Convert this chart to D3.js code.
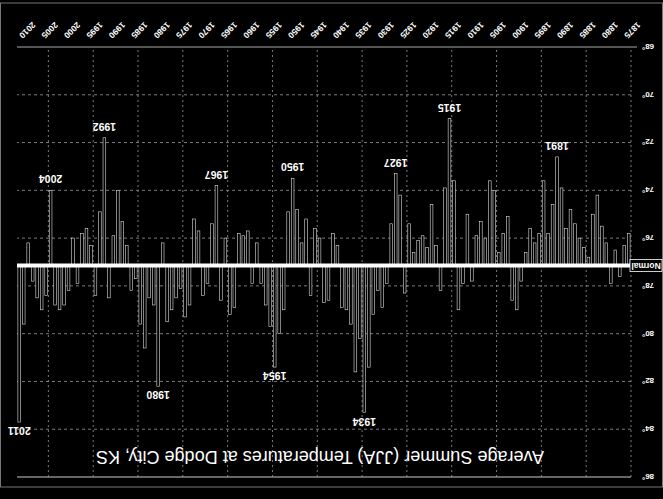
<!DOCTYPE html>
<html>
<head>
<meta charset="utf-8">
<script src="https://cdn.jsdelivr.net/npm/d3@7"></script>
<style>
  body { margin: 0; background: #000; }
  text { font-family: "Liberation Sans", Arial, sans-serif; fill: #fff; }
</style>
</head>
<body>
<div class="canvas"></div>
<script>
const WIDTH = 663;
const HEIGHT = 499;
const FIRST_YEAR = 1875;
const NORMAL = 77.15;

// Average JJA temperature (deg F), 1875 .. 2011
const temps = [
    75.8, 76.3, 77.6, 76.5, 77.9,
    76.2, 75.5, 74.2, 75.0, 76.8, 76.4, 76.0, 75.4, 74.8, 75.6,
    73.9, 72.6, 74.6, 75.8, 73.6, 75.8, 76.2, 75.6, 76.6, 77.8,
    79.0, 78.6, 75.1, 75.8, 76.6, 74.0, 73.6, 76.0, 75.3, 75.9,
    77.8, 75.0, 77.9, 79.0, 73.6, 71.0, 73.9, 78.2, 76.3, 74.6,
    76.4, 75.9, 76.1, 76.6, 75.4, 78.3, 74.2, 73.3, 75.4, 77.9,
    78.9, 78.2, 79.2, 81.4, 83.3, 80.2, 81.6, 79.6, 79.0, 78.9,
    76.3, 75.8, 78.6, 78.7, 76.0, 75.6, 78.4, 75.2, 76.2, 74.8,
    73.5, 74.9, 79.0, 80.0, 81.4, 79.7, 78.8, 77.9, 76.2, 77.9,
    75.7, 75.9, 75.8, 78.9, 79.2, 76.0, 78.6, 73.8, 75.4, 77.9,
    78.4, 75.7, 75.2, 78.8, 79.3, 78.1, 78.5, 79.0, 79.5, 76.2,
    82.2, 78.8, 78.5, 80.6, 79.6, 77.7, 78.2, 76.3, 75.3, 74.0,
    75.9, 78.5, 71.8, 74.9, 78.4, 76.3, 75.6, 75.8, 77.9, 76.0,
    78.2, 78.8, 79.0, 78.8, 74.0, 78.4, 79.0, 78.5, 77.8, 76.2,
    79.6, 83.7
];

const tickYears = [1875, 1880, 1885, 1890, 1895, 1900, 1905, 1910, 1915, 1920,
    1925, 1930, 1935, 1940, 1945, 1950, 1955, 1960, 1965, 1970, 1975, 1980,
    1985, 1990, 1995, 2000, 2005, 2010];
const gridYears = [1875, 1885, 1895, 1905, 1915, 1925, 1935, 1945, 1955, 1965,
    1975, 1985, 1995, 2005];
const yTicks = [68, 70, 72, 74, 76, 78, 80, 82, 84, 86];
const labeledYears = [1891, 1915, 1927, 1934, 1950, 1954, 1967, 1980, 1992, 2004, 2011];

const data = temps.map((t, i) => ({ year: FIRST_YEAR + i, temp: t }));

const plot = { left: 32, right: 646, top: 22, bottom: 452 };

const svg = d3.select('.canvas')
    .append('svg')
    .attr('width', WIDTH)
    .attr('height', HEIGHT)
    .style('display', 'block')
    .style('background', '#000');

// the scanned original is upside down, so the whole chart is turned round
const root = svg.append('g')
    .attr('transform', `rotate(180, ${WIDTH / 2}, ${HEIGHT / 2})`);

const x = d3.scaleBand()
    .domain(data.map(d => d.year))
    .range([plot.left, plot.right])
    .paddingInner(0.4)
    .paddingOuter(0.2);

const y = d3.scaleLinear()
    .domain([68, 86])
    .range([plot.bottom, plot.top]);

// chart frame
root.append('rect')
    .attr('x', 0.5).attr('y', 12)
    .attr('width', WIDTH - 1).attr('height', 484)
    .attr('fill', 'none')
    .attr('stroke', '#777')
    .attr('stroke-width', 1);

// horizontal gridlines
root.append('g')
    .selectAll('line')
    .data(yTicks.filter(t => t > 68 && t < 86))
    .enter()
    .append('line')
    .attr('x1', plot.left).attr('x2', plot.right)
    .attr('y1', d => y(d)).attr('y2', d => y(d))
    .attr('stroke', '#999')
    .attr('stroke-width', 0.8)
    .attr('stroke-dasharray', '3,3');

root.append('line')
    .attr('x1', plot.left).attr('x2', plot.right)
    .attr('y1', y(86)).attr('y2', y(86))
    .attr('stroke', '#ccc')
    .attr('stroke-width', 1);

// vertical gridlines sit on the band boundaries
const edge = yr => x(yr) - x.step() * x.paddingInner() / 2;

root.append('g')
    .selectAll('line')
    .data(gridYears)
    .enter()
    .append('line')
    .attr('x1', d => edge(d)).attr('x2', d => edge(d))
    .attr('y1', plot.top).attr('y2', plot.bottom)
    .attr('stroke', '#999')
    .attr('stroke-width', 0.8)
    .attr('stroke-dasharray', '2,3');

// bars from the normal
root.append('g')
    .selectAll('rect')
    .data(data)
    .enter()
    .append('rect')
    .attr('x', d => x(d.year))
    .attr('width', x.bandwidth())
    .attr('y', d => Math.min(y(d.temp), y(NORMAL)))
    .attr('height', d => Math.abs(y(d.temp) - y(NORMAL)))
    .attr('fill', '#000')
    .attr('stroke', '#ddd')
    .attr('stroke-width', 0.6);

// bottom axis line
root.append('line')
    .attr('x1', 26).attr('x2', plot.right)
    .attr('y1', plot.bottom).attr('y2', plot.bottom)
    .attr('stroke', '#aaa')
    .attr('stroke-width', 1.2);

// normal line
root.append('line')
    .attr('x1', plot.left).attr('x2', plot.right)
    .attr('y1', y(NORMAL)).attr('y2', y(NORMAL))
    .attr('stroke', '#fff')
    .attr('stroke-width', 4);

const normalLabel = root.append('g')
    .attr('transform', `translate(0, ${y(NORMAL)})`);
normalLabel.append('rect')
    .attr('x', 1).attr('y', -6)
    .attr('width', 32).attr('height', 12)
    .attr('fill', '#000')
    .attr('stroke', '#fff')
    .attr('stroke-width', 0.8);
normalLabel.append('text')
    .attr('x', 17).attr('y', 0)
    .attr('dy', '0.35em')
    .attr('text-anchor', 'middle')
    .style('font-size', '8.5px')
    .style('font-weight', 'bold')
    .text('Normal');

// y axis
const yAxis = root.append('g')
    .attr('transform', `translate(${plot.left}, 0)`)
    .call(d3.axisLeft(y).tickValues(yTicks).tickSize(0).tickPadding(11)
        .tickFormat(d => d + '°'));
yAxis.select('.domain').remove();
yAxis.selectAll('text')
    .style('font-size', '8px')
    .style('font-weight', 'bold')
    .attr('fill', '#fff');

// x axis
const xAxis = root.append('g')
    .attr('transform', `translate(0, ${plot.bottom})`)
    .call(d3.axisBottom(x).tickValues(tickYears).tickSize(0));
xAxis.select('.domain').remove();
xAxis.selectAll('text')
    .attr('y', 0)
    .attr('dy', '0.35em')
    .attr('transform', 'translate(3, 10) rotate(-45)')
    .style('text-anchor', 'end')
    .style('font-size', '8.5px')
    .style('font-weight', 'bold')
    .attr('fill', '#fff');

// year labels on the extremes
root.append('g')
    .selectAll('text')
    .data(data.filter(d => labeledYears.includes(d.year)))
    .enter()
    .append('text')
    .attr('x', d => x(d.year) + x.bandwidth() / 2)
    .attr('y', d => d.temp > NORMAL ? y(d.temp) - 5 : y(d.temp) + 15)
    .attr('text-anchor', 'middle')
    .style('font-size', '10.5px')
    .style('font-weight', 'bold')
    .text(d => d.year);

// title
root.append('text')
    .attr('x', 343)
    .attr('y', 48)
    .attr('text-anchor', 'middle')
    .style('font-size', '18px')
    .text('Average Summer (JJA) Temperatures at Dodge City, KS');
</script>
</body>
</html>
